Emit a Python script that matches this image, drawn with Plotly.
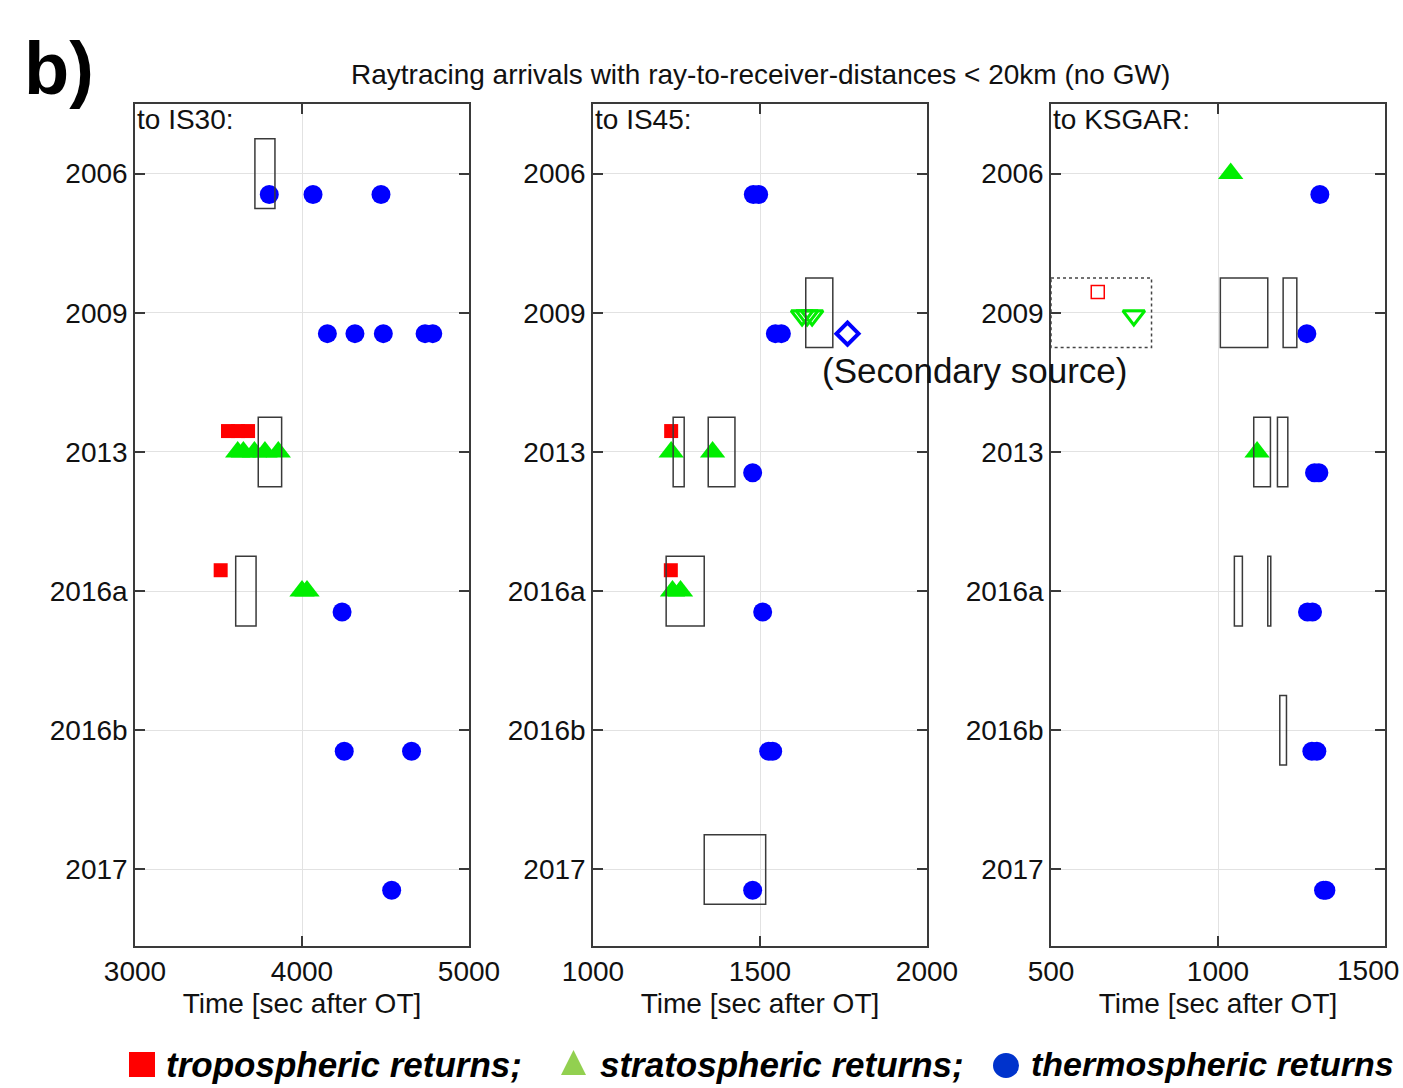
import plotly.graph_objects as go

# ---------------- data ----------------
years = ["2006", "2009", "2013", "2016a", "2016b", "2017"]
stations = ["IS30", "IS45", "KSGAR"]
x_ranges = [[3000, 5000], [1000, 2000], [500, 1500]]
x_ticks = [[3000, 4000, 5000], [1000, 1500, 2000], [500, 1000, 1500]]

# IS30
is30_tropo_year = ["2013", "2013", "2013", "2016a"]
is30_tropo_time = [3557, 3617, 3677, 3513]
is30_strato_year = ["2013", "2013", "2013", "2013", "2013", "2016a", "2016a"]
is30_strato_time = [3615, 3649, 3715, 3778, 3858, 4000, 4030]
is30_thermo_year = ["2006", "2006", "2006", "2009", "2009", "2009", "2009", "2009",
                    "2016a", "2016b", "2016b", "2017"]
is30_thermo_time = [3804, 4066, 4473, 4152, 4317, 4487, 4737, 4783,
                    4240, 4253, 4656, 4537]
is30_box_year = ["2006", "2013", "2016a"]
is30_box_start = [3718, 3738, 3603]
is30_box_end = [3838, 3878, 3725]

# IS45
is45_tropo_year = ["2013", "2016a"]
is45_tropo_time = [1234, 1233]
is45_strato_year = ["2013", "2013", "2016a", "2016a"]
is45_strato_time = [1234, 1358, 1238, 1262]
is45_thermo_year = ["2006", "2006", "2009", "2009", "2013", "2016a", "2016b", "2016b", "2017"]
is45_thermo_time = [1480, 1496, 1546, 1564, 1478, 1508, 1526, 1538, 1478]
is45_strato2_year = ["2009", "2009", "2009"]
is45_strato2_time = [1626, 1641, 1656]
is45_thermo2_year = ["2009"]
is45_thermo2_time = [1762]
is45_box_year = ["2009", "2013", "2013", "2016a", "2017"]
is45_box_start = [1637, 1240, 1345, 1219, 1333]
is45_box_end = [1718, 1273, 1425, 1333, 1517]

# KSGAR
ksgar_strato_year = ["2006", "2013"]
ksgar_strato_time = [1038, 1117]
ksgar_thermo_year = ["2006", "2009", "2013", "2013", "2016a", "2016a", "2016b", "2016b", "2017", "2017"]
ksgar_thermo_time = [1305, 1266, 1289, 1302, 1268, 1283, 1281, 1296, 1316, 1323]
ksgar_tropo2_year = ["2009"]
ksgar_tropo2_time = [640]
ksgar_strato2_year = ["2009"]
ksgar_strato2_time = [748]
ksgar_box_year = ["2009", "2009", "2013", "2013", "2016a", "2016a", "2016b"]
ksgar_box_start = [1007, 1195, 1107, 1178, 1049, 1149, 1185]
ksgar_box_end = [1149, 1236, 1157, 1209, 1073, 1158, 1205]
ksgar_secbox_year = ["2009"]
ksgar_secbox_start = [500]
ksgar_secbox_end = [801]

legend_labels = ["tropospheric returns;", "stratospheric returns;", "thermospheric returns"]

# ---------------- layout helpers ----------------
W, H = 1403, 1088
L, R, T, B = 135, 18, 104, 142
PW = W - L - R
PH = H - T - B
panel_px = [(135, 469), (593, 927), (1051, 1385)]
domains = [[(a - L) / PW, (b - L) / PW] for a, b in panel_px]
yidx = {y: i for i, y in enumerate(years)}

FONT = "Liberation Sans, Arial, sans-serif"
BLUE = "#0000ff"
RED = "#ff0000"
GREEN = "#00ee00"
FRAME = "#3a3a3a"

OFF = {"thermo": 0.15, "tropo": -0.15, "strato": 0.0,
       "strato2": 0.02, "tropo2": -0.15, "thermo2": 0.15}

STYLE = {
    "thermo": dict(symbol="circle", color=BLUE, size=19, line=dict(width=0)),
    "tropo": dict(symbol="square", color=RED, size=14, line=dict(width=0)),
    "strato": dict(symbol="triangle-up", color=GREEN, size=22, line=dict(width=0)),
    "strato2": dict(symbol="triangle-down-open", color=GREEN, size=19,
                    line=dict(width=3, color=GREEN)),
    "tropo2": dict(symbol="square-open", color=RED, size=13,
                   line=dict(width=1.5, color=RED)),
    "thermo2": dict(symbol="diamond-open", color=BLUE, size=17,
                    line=dict(width=4, color=BLUE)),
}

fig = go.Figure()


def add_series(k, kind, yrs, times):
    xa = "x" if k == 0 else f"x{k+1}"
    ya = "y" if k == 0 else f"y{k+1}"
    fig.add_trace(go.Scatter(
        x=times, y=[yidx[y] + OFF[kind] for y in yrs],
        mode="markers", marker=STYLE[kind], xaxis=xa, yaxis=ya,
        showlegend=False, hoverinfo="x"))


def add_boxes(k, yrs, starts, ends, dash="solid", color=FRAME):
    xa = "x" if k == 0 else f"x{k+1}"
    ya = "y" if k == 0 else f"y{k+1}"
    for y, s, e in zip(yrs, starts, ends):
        fig.add_shape(type="rect", xref=xa, yref=ya, x0=s, x1=e,
                      y0=yidx[y] - 0.25, y1=yidx[y] + 0.25,
                      line=dict(color=color, width=1.5, dash=dash),
                      fillcolor="rgba(0,0,0,0)", layer="above")


add_boxes(0, is30_box_year, is30_box_start, is30_box_end)
add_boxes(1, is45_box_year, is45_box_start, is45_box_end)
add_boxes(2, ksgar_box_year, ksgar_box_start, ksgar_box_end)
add_boxes(2, ksgar_secbox_year, ksgar_secbox_start, ksgar_secbox_end, dash="dot", color="#444")

add_series(0, "tropo", is30_tropo_year, is30_tropo_time)
add_series(0, "strato", is30_strato_year, is30_strato_time)
add_series(0, "thermo", is30_thermo_year, is30_thermo_time)

add_series(1, "tropo", is45_tropo_year, is45_tropo_time)
add_series(1, "strato", is45_strato_year, is45_strato_time)
add_series(1, "thermo", is45_thermo_year, is45_thermo_time)
add_series(1, "strato2", is45_strato2_year, is45_strato2_time)
add_series(1, "thermo2", is45_thermo2_year, is45_thermo2_time)

add_series(2, "strato", ksgar_strato_year, ksgar_strato_time)
add_series(2, "thermo", ksgar_thermo_year, ksgar_thermo_time)
add_series(2, "tropo2", ksgar_tropo2_year, ksgar_tropo2_time)
add_series(2, "strato2", ksgar_strato2_year, ksgar_strato2_time)

axis_common = dict(showline=True, linecolor=FRAME, linewidth=1.5, mirror="ticks",
                   ticks="inside", ticklen=10, tickwidth=1.5, tickcolor=FRAME,
                   showgrid=True, gridcolor="#e2e2e2", gridwidth=1.2, automargin=False,
                   zeroline=False, tickfont=dict(family=FONT, size=28, color="#111"))

layout = dict(width=W, height=H, autosize=False, margin=dict(l=L, r=R, t=T, b=B),
              plot_bgcolor="white", paper_bgcolor="white",
              font=dict(family=FONT, color="#111"))

for k in range(3):
    sx = "" if k == 0 else str(k + 1)
    layout[f"xaxis{sx}"] = dict(
        domain=domains[k], range=x_ranges[k], tickvals=x_ticks[k],
        anchor=f"y{sx}",
        title=dict(text="Time [sec after OT]", font=dict(family=FONT, size=28, color="#111"),
                   standoff=7),
        **axis_common)
    layout[f"yaxis{sx}"] = dict(
        domain=[0, 1], range=[5.55, -0.5], tickvals=list(range(len(years))),
        ticktext=years, anchor=f"x{sx}", **axis_common)

fig.update_layout(**layout)

for k, st in enumerate(stations):
    sx = "" if k == 0 else str(k + 1)
    fig.add_annotation(text=f"to {st}:", xref=f"x{sx} domain", yref=f"y{sx} domain",
                       x=0.0, y=1.0, xanchor="left", yanchor="top", showarrow=False,
                       yshift=2, font=dict(family=FONT, size=28, color="#111"))

# last tick label of third panel (plotly hides it because it overflows the page edge);
# right-anchored so that it stays fully inside the picture
fig.add_annotation(text=str(x_ticks[2][-1]), xref="x3", yref="y3 domain",
                   x=x_ticks[2][-1], y=0, xanchor="right", yanchor="middle",
                   xshift=16, yshift=-24, showarrow=False,
                   font=dict(family=FONT, size=28, color="#111"))


def px2paper(px, py):
    return (px - L) / PW, (H - B - py) / PH


tx, ty = px2paper(760, 74)
fig.add_annotation(text="Raytracing arrivals with ray-to-receiver-distances < 20km (no GW)",
                   xref="paper", yref="paper", x=tx, y=ty, xanchor="center", yanchor="middle",
                   showarrow=False, font=dict(family=FONT, size=28, color="#111"))

bx, by = px2paper(22, 68)
fig.add_annotation(text="<b>b)</b>", xref="paper", yref="paper", x=bx, y=by,
                   xanchor="left", yanchor="middle", showarrow=False,
                   font=dict(family=FONT, size=74, color="black"))

sx_, sy_ = px2paper(974, 370)
fig.add_annotation(text="(Secondary source)", xref="paper", yref="paper", x=sx_, y=sy_,
                   xanchor="center", yanchor="middle", showarrow=False,
                   font=dict(family=FONT, size=35, color="#111"))

# legend (bottom)
x0, y0 = px2paper(129, 1052)
x1, y1 = px2paper(155, 1077)
fig.add_shape(type="rect", xref="paper", yref="paper", x0=x0, x1=x1, y0=y0, y1=y1,
              fillcolor="#ff0000", line=dict(width=0))
ax_, ay_ = px2paper(561, 1075)
bx_, by_ = px2paper(586, 1075)
cx_, cy_ = px2paper(573.5, 1050)
fig.add_shape(type="path", xref="paper", yref="paper",
              path=f"M {ax_},{ay_} L {bx_},{by_} L {cx_},{cy_} Z",
              fillcolor="#92d050", line=dict(width=0))
c0x, c0y = px2paper(993, 1053)
c1x, c1y = px2paper(1019, 1078)
fig.add_shape(type="circle", xref="paper", yref="paper", x0=c0x, x1=c1x, y0=c0y, y1=c1y,
              fillcolor="#0033cc", line=dict(width=0))

for txt, pxx, fs in zip(legend_labels, [164, 598, 1029], [35, 35, 34]):
    lx, ly = px2paper(pxx, 1064)
    fig.add_annotation(text=f"<b><i>{txt}</i></b>", xref="paper", yref="paper", x=lx, y=ly,
                       xanchor="left", yanchor="middle", showarrow=False,
                       font=dict(family=FONT, size=fs, color="black"))

fig.write_html(
    "out.html",
    config={"responsive": False, "displayModeBar": False},
    post_script="document.body.style.margin='0';document.body.style.overflow='hidden';"
                "document.documentElement.style.overflow='hidden';",
)
